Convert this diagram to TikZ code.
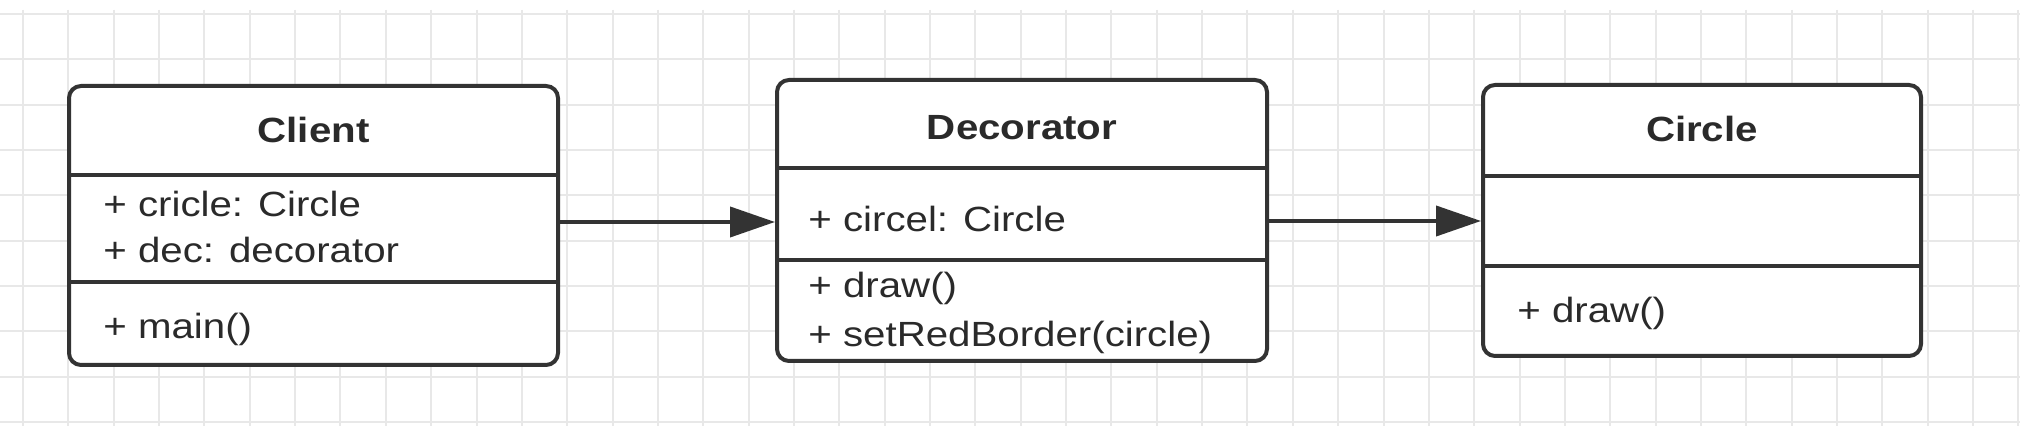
\documentclass[tikz,border=0pt]{standalone}
\usepackage{fontspec}
\setmainfont[FakeStretch=1.15]{Liberation Sans}
\usetikzlibrary{arrows.meta}
\definecolor{ink}{HTML}{333333}
\definecolor{txt}{HTML}{2A2A2A}
\definecolor{gridc}{HTML}{E8E8E8}
\begin{document}
\begin{tikzpicture}[x=0.5pt,y=-0.5pt,
  umlbox/.style={draw=ink, line width=2pt, rounded corners=6pt, fill=white, inner sep=0pt},
  divider/.style={draw=ink, line width=2pt},
  title/.style={font=\fontsize{17.5pt}{21pt}\selectfont\bfseries, text=txt, anchor=base, inner sep=0pt},
  member/.style={font=\fontsize{17.5pt}{21pt}\selectfont, text=txt, anchor=base west, inner sep=0pt},
  assoc/.style={draw=ink, line width=2pt, -{Triangle[length=22.5pt,width=15pt]}},
  gridline/.style={draw=gridc, line width=1pt}]
\useasboundingbox (0,0) rectangle (2020,426);
\fill[white] (0,0) rectangle (2020,426);
% background grid
\foreach \k in {0,...,44} \draw[gridline] ({23+45.35*\k},10) -- ({23+45.35*\k},426);
\foreach \k in {0,...,9} \draw[gridline] (0,{14+45.35*\k}) -- (2020,{14+45.35*\k});

% class boxes
\node[umlbox, minimum width=244.5pt, minimum height=139.5pt] (cl) at (313.5,225.5) {};
\node[umlbox, minimum width=245pt, minimum height=140.5pt] (dec) at (1022,220.5) {};
\node[umlbox, minimum width=219pt, minimum height=135.5pt] (cir) at (1702,220.5) {};

% compartment dividers
\draw[divider] (cl.west |- 0,175) -- (cl.east |- 0,175);
\draw[divider] (cl.west |- 0,282) -- (cl.east |- 0,282);
\draw[divider] (dec.west |- 0,168) -- (dec.east |- 0,168);
\draw[divider] (dec.west |- 0,260) -- (dec.east |- 0,260);
\draw[divider] (cir.west |- 0,176) -- (cir.east |- 0,176);
\draw[divider] (cir.west |- 0,266) -- (cir.east |- 0,266);

% texts
\node[title] (clT) at (313.5,143) {Client};
\node[member] (clA1) at (103,217) {+ cricle: Circle};
\node[member] (clA2) at (103,263) {+ dec: decorator};
\node[member] (clM1) at (103,339) {+ main()};

\node[title] (decT) at (1022,140) {Decorator};
\node[member] (decA1) at (808,232) {+ circel: Circle};
\node[member] (decM1) at (808,298) {+ draw()};
\node[member] (decM2) at (808,347) {+ setRedBorder(circle)};

\node[title] (cirT) at (1702,142) {Circle};
\node[member] (cirM1) at (1517,323) {+ draw()};

% associations
\draw[assoc] (cl.east |- 0,222) -- (dec.west |- 0,222);
\draw[assoc] (dec.east |- 0,221) -- (cir.west |- 0,221);
\end{tikzpicture}
\end{document}
